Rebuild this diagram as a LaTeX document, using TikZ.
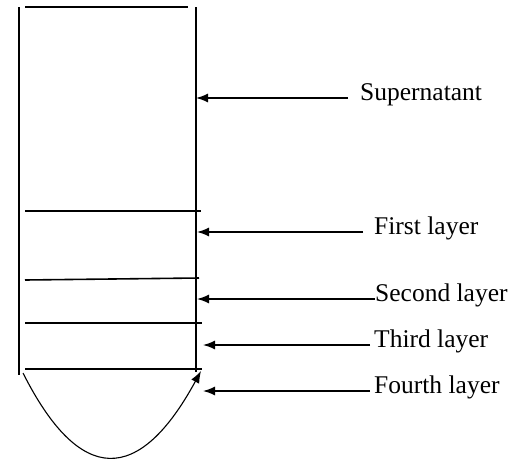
\documentclass[tikz,border=0pt]{standalone}
\usepackage{fontspec}
\setmainfont{Liberation Serif}
\usetikzlibrary{arrows.meta}

\begin{document}
\begin{tikzpicture}[x=1pt,y=-1pt,
  wall/.style={line width=1.8pt},
  layer/.style={line width=1.6pt},
  pointer/.style={-{Latex[length=12pt,width=9pt]},line width=1.4pt},
  lbl/.style={anchor=base west,inner sep=0pt,font=\fontsize{25.5}{30}\selectfont}]
\useasboundingbox (0,0) rectangle (511,463);
% tube walls and layer boundaries
\draw[wall] (19,7) -- (19,375);
\draw[wall] (196,7) -- (196,372);
\draw[layer] (25,7) -- (188,7);
\draw[layer] (25,211) -- (201,211);
\draw[layer] (25,280) -- (199,278);
\draw[layer] (25,323) -- (202,323);
\draw[layer] (25,369) -- (202,369);
% rounded bottom
\coordinate (bl) at (23,373);
\coordinate (br) at (201,371);
\draw[line width=1.1pt,-{Latex[length=12pt,width=9pt]}] (bl) .. controls (80,486) and (139,485) .. (br);
% labels
\node[lbl] (sup) at (360,100) {Supernatant};
\node[lbl] (first) at (374,234) {First layer};
\node[lbl] (second) at (375,301) {Second layer};
\node[lbl] (third) at (374,347) {Third layer};
\node[lbl] (fourth) at (374,393) {Fourth layer};
% pointers
\coordinate (supT) at (348,98);    \coordinate (supH) at (196,98);
\coordinate (firstT) at (363,232); \coordinate (firstH) at (197,232);
\coordinate (secondT) at (375,299); \coordinate (secondH) at (197,299);
\coordinate (thirdT) at (370,345); \coordinate (thirdH) at (203,345);
\coordinate (fourthT) at (370,391); \coordinate (fourthH) at (203,391);
\draw[pointer] (supT) -- (supH);
\draw[pointer] (firstT) -- (firstH);
\draw[pointer] (secondT) -- (secondH);
\draw[pointer] (thirdT) -- (thirdH);
\draw[pointer] (fourthT) -- (fourthH);
\end{tikzpicture}
\end{document}
